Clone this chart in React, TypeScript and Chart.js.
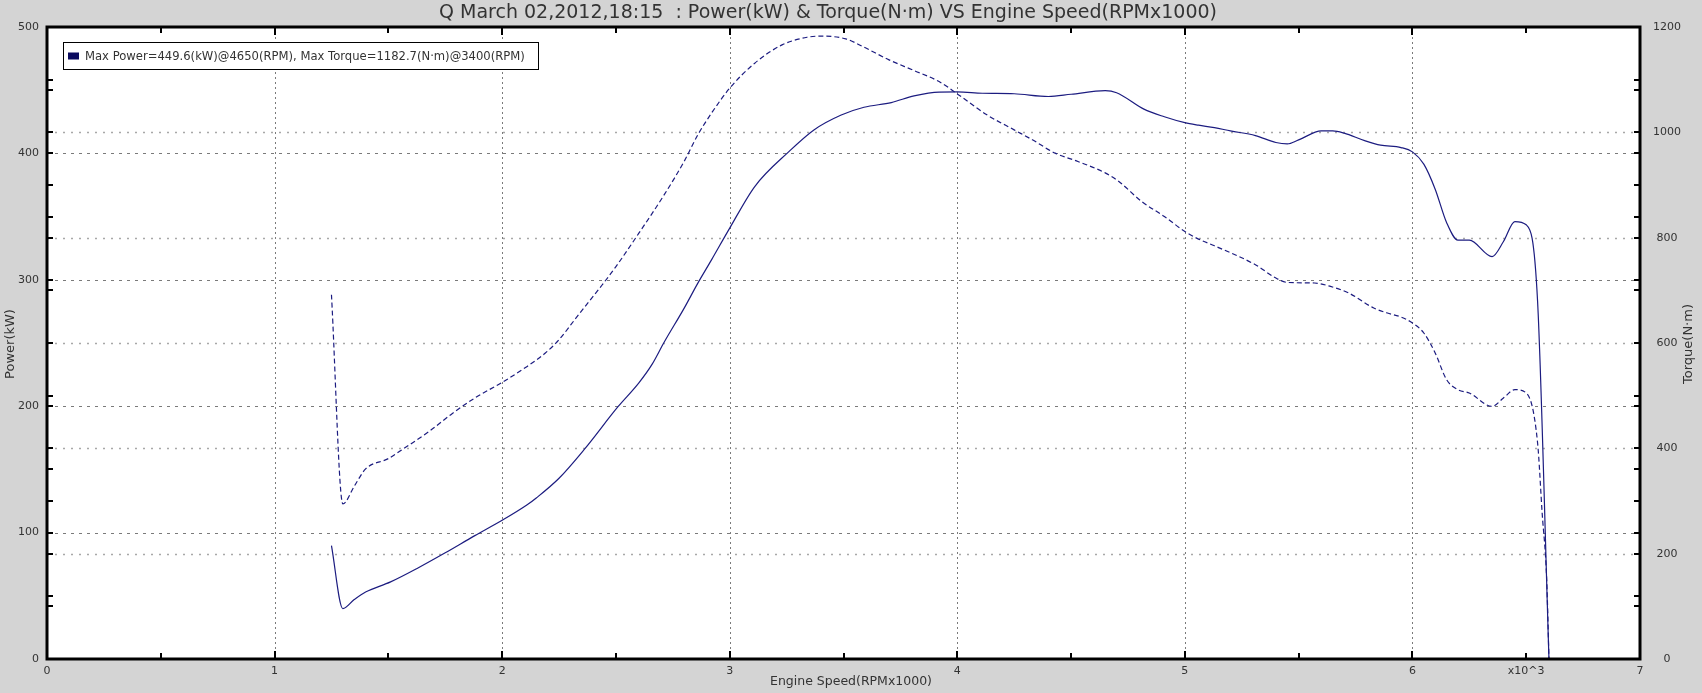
import React, { useEffect, useRef } from 'react';
import { Chart, registerables } from 'chart.js';

Chart.register(...registerables);

const TITLE = 'Q March 02,2012,18:15  : Power(kW) & Torque(N·m) VS Engine Speed(RPMx1000)';
const LEGEND_TEXT = 'Max Power=449.6(kW)@4650(RPM), Max Torque=1182.7(N·m)@3400(RPM)';
const X_TITLE = 'Engine Speed(RPMx1000)';
const Y_TITLE = 'Power(kW)';
const Y2_TITLE = 'Torque(N·m)';

// Engine speed (RPM x1000) for the power curve
const POWER_RPM = [
  1.25, 1.30, 1.35, 1.40, 1.51, 1.63, 1.75, 1.88, 2.0, 2.11, 2.15, 2.25, 2.36, 2.51, 2.6, 2.66,
  2.71, 2.8, 2.86, 2.92, 3.0, 3.11, 3.26, 3.37, 3.49, 3.59, 3.71, 3.81, 3.92, 4.0, 4.11, 4.25,
  4.4, 4.5, 4.65, 4.7, 4.82, 4.91, 5.0, 5.06, 5.13, 5.2, 5.31, 5.4, 5.45, 5.5, 5.6, 5.65,
  5.7, 5.79, 5.86, 5.95, 6.0, 6.05, 6.1, 6.15, 6.2, 6.25, 6.35, 6.4, 6.45, 6.5, 6.55, 6.6,
];
// Power (kW)
const POWER_KW = [
  89.7, 39.9, 47, 53, 61, 72, 84, 97.6, 109.7, 122, 127.4, 143, 165.6, 199.8, 218.3, 233.5,
  250, 277.6, 297.4, 315.8, 340.9, 373.8, 401.4, 418.6, 430.4, 436.5, 440.2, 445.5, 448.5, 448.6, 447.6, 447.2,
  445, 446.8, 449.6, 448, 435, 429, 424.3, 422.3, 420.4, 417.8, 414.1, 408.6, 407.5, 410.7, 417.8, 417.8,
  416, 410.1, 406.5, 404.6, 401.2, 391.5, 371.7, 345.3, 331.4, 331.4, 318.4, 330.3, 346.1, 343.5, 282.8, 0,
];

// Engine speed (RPM x1000) for the torque curve
const TORQUE_RPM = [
  1.25, 1.30, 1.35, 1.40, 1.50, 1.56, 1.68, 1.78, 1.88, 2.0, 2.11, 2.19, 2.25, 2.33, 2.44, 2.5,
  2.6, 2.71, 2.8, 2.86, 2.92, 3.0, 3.11, 3.23, 3.34, 3.4, 3.51, 3.59, 3.7, 3.81, 3.92, 4.0,
  4.13, 4.25, 4.33, 4.43, 4.53, 4.65, 4.71, 4.81, 4.91, 5.0, 5.06, 5.13, 5.31, 5.4, 5.45, 5.57,
  5.64, 5.72, 5.83, 5.89, 5.95, 6.0, 6.05, 6.1, 6.15, 6.2, 6.25, 6.35, 6.4, 6.45, 6.5, 6.55,
  6.57, 6.59, 6.6,
];
// Torque (N·m)
const TORQUE_NM = [
  691.7, 294.5, 327.9, 360.9, 380.5, 397.5, 432.3, 465.8, 495.6, 525.2, 555.6, 581, 606.3, 650.5, 710.6, 745,
  808, 880, 945, 995.3, 1036.4, 1083.9, 1131.3, 1166, 1180.5, 1182.7, 1177.4, 1161.7, 1137.6, 1117.3, 1096.4, 1073,
  1033.2, 1004.7, 985.8, 960.5, 944.6, 923, 906.6, 868.7, 840.2, 811.8, 797.3, 784.6, 748.6, 723.3, 715, 713.9,
  707.4, 694.9, 666.4, 656.9, 649.3, 638, 619, 581, 530.4, 511.4, 505.1, 479.7, 495.6, 511.4, 505.1, 410.2,
  277.4, 150.9, 0,
];

// Axis tick labels
const X_TICK_VALUES = [0, 1, 2, 3, 4, 5, 6, 6.5, 7];
const X_TICK_TEXT = ['0', '1', '2', '3', '4', '5', '6', 'x10^3', '7'];
const X_GRID_VALUES = [1, 2, 3, 4, 5, 6];
const POWER_GRID_VALUES = [100, 200, 300, 400];
const TORQUE_GRID_VALUES = [200, 400, 600, 800, 1000];

const BG = '#d4d4d4';
const LINE_COLOR = '#1c1c80';
const TEXT_COLOR = '#333333';
const FONT_FAMILY = '"DejaVu Sans", Verdana, sans-serif';

const framePlugin = {
  id: 'framePlugin',
  beforeDraw(chart: any) {
    const { ctx, chartArea: a } = chart;
    ctx.save();
    ctx.fillStyle = BG;
    ctx.fillRect(0, 0, chart.width, chart.height);
    ctx.fillStyle = '#ffffff';
    ctx.fillRect(a.left, a.top, a.right - a.left, a.bottom - a.top);
    ctx.restore();
  },
  beforeDatasetsDraw(chart: any) {
    const { ctx, chartArea: a, scales } = chart;
    const xs = scales.x, yl = scales.y, yr = scales.y2;
    ctx.save();
    ctx.lineWidth = 1;
    ctx.strokeStyle = '#7a7a7a';
    ctx.setLineDash([2, 3]);
    X_GRID_VALUES.forEach((v) => {
      const x = Math.round(xs.getPixelForValue(v)) + 0.5;
      ctx.beginPath();
      ctx.moveTo(x, a.top);
      ctx.lineTo(x, a.bottom);
      ctx.stroke();
    });
    ctx.strokeStyle = '#7a7a7a';
    ctx.setLineDash([3, 5]);
    POWER_GRID_VALUES.forEach((v) => {
      const y = Math.round(yl.getPixelForValue(v)) + 0.5;
      ctx.beginPath();
      ctx.moveTo(a.left, y);
      ctx.lineTo(a.right, y);
      ctx.stroke();
    });
    ctx.strokeStyle = '#a8a8a8';
    ctx.lineWidth = 1.5;
    ctx.setLineDash([2, 6]);
    TORQUE_GRID_VALUES.forEach((v) => {
      const y = Math.round(yr.getPixelForValue(v)) + 0.5;
      ctx.beginPath();
      ctx.moveTo(a.left, y);
      ctx.lineTo(a.right, y);
      ctx.stroke();
    });
    ctx.restore();
  },
  afterDatasetsDraw(chart: any) {
    const { ctx, chartArea: a, scales } = chart;
    const xs = scales.x, yl = scales.y, yr = scales.y2;
    ctx.save();
    ctx.setLineDash([]);
    ctx.strokeStyle = '#000';
    ctx.lineWidth = 2;
    xs.ticks.forEach((t: any) => {
      const x = Math.round(xs.getPixelForValue(t.value));
      const len = Number.isInteger(t.value) ? 8 : 6;
      ctx.beginPath();
      ctx.moveTo(x, a.bottom);
      ctx.lineTo(x, a.bottom - len);
      ctx.moveTo(x, a.top);
      ctx.lineTo(x, a.top + len);
      ctx.stroke();
    });
    const drawYTick = (y: number) => {
      ctx.beginPath();
      ctx.moveTo(a.left, y);
      ctx.lineTo(a.left + 6, y);
      ctx.moveTo(a.right, y);
      ctx.lineTo(a.right - 6, y);
      ctx.stroke();
    };
    for (let v = 0; v <= 500; v += 50) drawYTick(Math.round(yl.getPixelForValue(v)));
    for (let v = 0; v <= 1200; v += 100) drawYTick(Math.round(yr.getPixelForValue(v)));
    ctx.lineWidth = 3;
    ctx.strokeRect(a.left, a.top, a.right - a.left, a.bottom - a.top);

    // legend box
    const lx = a.left + 16, ly = a.top + 15, lw = 475, lh = 27;
    ctx.fillStyle = '#ffffff';
    ctx.fillRect(lx, ly, lw, lh);
    ctx.lineWidth = 1;
    ctx.strokeStyle = '#000';
    ctx.strokeRect(lx + 0.5, ly + 0.5, lw, lh);
    ctx.fillStyle = '#0a0a5e';
    ctx.fillRect(lx + 5, ly + lh / 2 - 3, 11, 7);
    ctx.fillStyle = TEXT_COLOR;
    ctx.font = `11.6px ${FONT_FAMILY}`;
    ctx.textAlign = 'left';
    ctx.textBaseline = 'middle';
    ctx.fillText(LEGEND_TEXT, lx + 22, ly + lh / 2 + 1);

    // chart title
    ctx.font = `19px ${FONT_FAMILY}`;
    ctx.textAlign = 'center';
    ctx.textBaseline = 'middle';
    ctx.fillText(TITLE, 828, 13);

    // x axis title
    ctx.font = `12.5px ${FONT_FAMILY}`;
    ctx.fillText(X_TITLE, 851, 682);

    // left axis title
    ctx.font = `13px ${FONT_FAMILY}`;
    ctx.save();
    ctx.translate(11, (a.top + a.bottom) / 2 + 1);
    ctx.rotate(-Math.PI / 2);
    ctx.fillText(Y_TITLE, 0, 0);
    ctx.restore();

    // right axis title (reads bottom to top)
    ctx.translate(chart.width - 13, (a.top + a.bottom) / 2 + 1);
    ctx.rotate(-Math.PI / 2);
    ctx.fillText(Y2_TITLE, 0, 0);
    ctx.restore();
  },
};

export default function App() {
  const canvasRef = useRef<HTMLCanvasElement | null>(null);

  useEffect(() => {
    if (!canvasRef.current) return;
    const powerData = POWER_RPM.map((x, i) => ({ x, y: POWER_KW[i] }));
    const torqueData = TORQUE_RPM.map((x, i) => ({ x, y: TORQUE_NM[i] }));

    const chart = new Chart(canvasRef.current, {
      type: 'line',
      data: {
        datasets: [
          {
            label: 'Power(kW)',
            data: powerData,
            yAxisID: 'y',
            borderColor: LINE_COLOR,
            borderWidth: 1.2,
            pointRadius: 0,
            cubicInterpolationMode: 'monotone',
            fill: false,
          },
          {
            label: 'Torque(N·m)',
            data: torqueData,
            yAxisID: 'y2',
            borderColor: LINE_COLOR,
            borderWidth: 1.2,
            borderDash: [5, 3],
            pointRadius: 0,
            cubicInterpolationMode: 'monotone',
            fill: false,
          },
        ],
      },
      options: {
        animation: false,
        responsive: false,
        devicePixelRatio: 1,
        layout: { padding: { top: 27, left: 0, right: 0, bottom: 0 } },
        plugins: {
          legend: { display: false },
          tooltip: { enabled: false },
          title: { display: false },
        },
        scales: {
          x: {
            type: 'linear',
            position: 'bottom',
            min: 0,
            max: 7,
            grid: { display: false, drawTicks: false, tickLength: 0 },
            border: { display: false },
            afterFit: (scale: any) => { scale.height = 34; },
            ticks: {
              stepSize: 0.5,
              autoSkip: false,
              maxRotation: 0,
              padding: 6,
              color: TEXT_COLOR,
              font: { family: FONT_FAMILY, size: 11 },
              callback: (value: any) => {
                const idx = X_TICK_VALUES.findIndex((v) => Math.abs(v - Number(value)) < 1e-9);
                return idx >= 0 ? X_TICK_TEXT[idx] : '';
              },
            },
          },
          y: {
            type: 'linear',
            position: 'left',
            min: 0,
            max: 500,
            grid: { display: false, drawTicks: false, tickLength: 0 },
            border: { display: false },
            afterFit: (scale: any) => { scale.width = 47; },
            ticks: {
              stepSize: 100,
              padding: 8,
              color: TEXT_COLOR,
              font: { family: FONT_FAMILY, size: 11 },
              callback: (value: any) => String(value),
            },
          },
          y2: {
            type: 'linear',
            position: 'right',
            min: 0,
            max: 1200,
            grid: { display: false, drawTicks: false, tickLength: 0 },
            border: { display: false },
            afterFit: (scale: any) => { scale.width = 62; },
            ticks: {
              stepSize: 200,
              padding: 13,
              crossAlign: 'center',
              color: TEXT_COLOR,
              font: { family: FONT_FAMILY, size: 11 },
              callback: (value: any) => String(value),
            },
          },
        },
      } as any,
      plugins: [framePlugin],
    });

    return () => chart.destroy();
  }, []);

  return (
    <div style={{ position: 'absolute', left: 0, top: 0, width: 1702, height: 693, background: BG }}>
      <canvas ref={canvasRef} width={1702} height={693} style={{ display: 'block', width: 1702, height: 693 }} />
    </div>
  );
}
